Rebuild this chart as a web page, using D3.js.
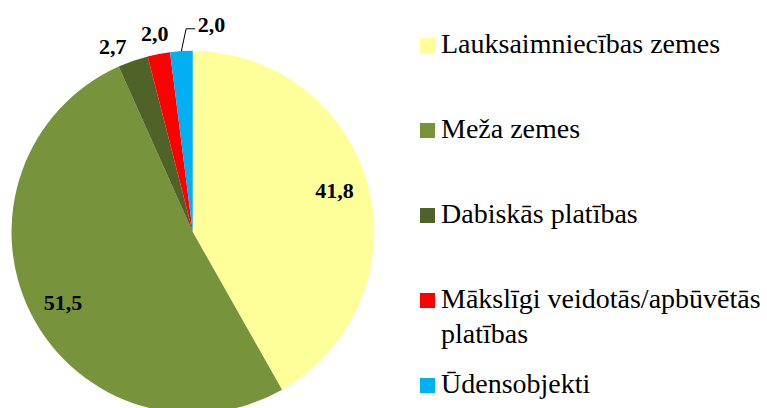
<!DOCTYPE html>
<html>
<head>
<meta charset="utf-8">
<script src="https://cdn.jsdelivr.net/npm/d3@7"></script>
</head>
<body style="margin:0">
<svg id="chart" width="767" height="408"></svg>
<script>
// data
let categories = ["Lauksaimniecības zemes", "Meža zemes", "Dabiskās platības",
  "Mākslīgi veidotās/apbūvētās platības", "Ūdensobjekti"];
let values = [41.8, 51.5, 2.7, 2.0, 2.0];
let colors = ["#FFFF99", "#77933C", "#4F6228", "#FF0000", "#00B0F0"];
// legend lines (second entry wraps)
let legendLines = [["Lauksaimniecības zemes"], ["Meža zemes"], ["Dabiskās platības"],
  ["Mākslīgi veidotās/apbūvētās", "platības"], ["Ūdensobjekti"]];

let serif = "'Liberation Serif', serif";
let cx = 192.75, cy = 232, radius = 181.25;
let deg = Math.PI / 180;
// label layout tweaks (degrees), like excel's best-fit moves
let insideTurn = -1.7;
let outsideNudge = { 2: -4 };
let svg = d3.select("#chart");

let data = categories.map(function (c, i) {
  return { name: c, value: values[i], color: colors[i] };
});

let pie = d3.pie().value(function (d) { return d.value; }).sort(null);
let arc = d3.arc().innerRadius(0).outerRadius(radius);
let arcs = pie(data);

let g = svg.append("g").attr("transform", "translate(" + cx + "," + cy + ")");

g.selectAll("path.slice")
  .data(arcs)
  .enter().append("path")
  .attr("class", "slice")
  .attr("d", arc)
  .style("fill", function (d) { return d.data.color; });

let polar = function (r, a) { return [r * Math.sin(a), -r * Math.cos(a)]; };
let fmt = function (v) { return d3.format(".1f")(v).replace(".", ","); };

arcs.forEach(function (d, i) {
  let pos;
  let mid = (d.startAngle + d.endAngle) / 2;
  if (d.data.value > 10) {
    pos = polar(radius * 0.815, mid + insideTurn * deg);
  } else if (i === arcs.length - 1) {
    // last label pushed right with a leader line
    pos = polar(radius * 1.148, 5.2 * deg);
    let edge = polar(radius, mid);
    let lineY = pos[1] + 4;
    g.append("polyline")
      .attr("points", [edge, [pos[0] - 25.5, lineY], [pos[0] - 16.5, lineY]].map(function (p) { return p.join(","); }).join(" "))
      .attr("fill", "none")
      .attr("stroke", "#000")
      .attr("stroke-width", 1);
  } else {
    pos = polar(radius * 1.117, mid + (outsideNudge[i] || 0) * deg);
  }
  g.append("text")
    .attr("x", pos[0])
    .attr("y", pos[1] + 7.5)
    .attr("text-anchor", "middle")
    .style("font-family", serif)
    .style("font-size", "22px")
    .style("font-weight", "bold")
    .style("fill", "#000")
    .text(fmt(d.data.value));
});

// legend
let legendY = d3.scalePoint().domain(d3.range(categories.length)).range([53, 393]);
let legend = svg.selectAll("g.legend")
  .data(data)
  .enter().append("g")
  .attr("class", "legend")
  .attr("transform", function (d, i) { return "translate(420," + legendY(i) + ")"; });

legend.append("rect")
  .attr("x", 0)
  .attr("y", -15)
  .attr("width", 15)
  .attr("height", 15)
  .style("fill", function (d) { return d.color; });

legend.append("text")
  .attr("x", 21)
  .attr("y", 0)
  .style("font-family", serif)
  .style("font-size", "28px")
  .style("fill", "#000")
  .each(function (d, i) {
    let t = d3.select(this);
    legendLines[i].forEach(function (line, j) {
      t.append("tspan").attr("x", 21).attr("y", j * 35).text(line);
    });
  });
</script>
</body>
</html>
